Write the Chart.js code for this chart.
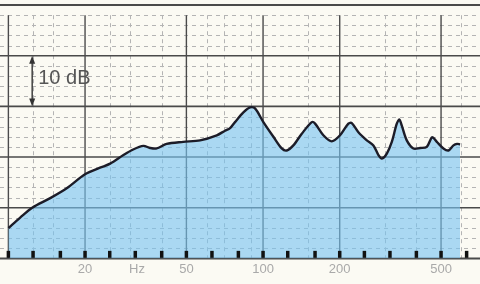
<!DOCTYPE html>
<html>
<head>
<meta charset="utf-8">
<script src="https://cdn.jsdelivr.net/npm/chart.js@4/dist/chart.umd.min.js"></script>
<style>
  html, body { margin: 0; padding: 0; background: #fbfaf3; }
  #wrap { width: 480px; height: 284px; }
</style>
</head>
<body>
<div id="wrap"><canvas id="myChart"></canvas></div>
<script>
// Response curve (Hz, dB)
var freqHz = [10, 11.1, 12.4, 14.6, 17, 20, 22.9, 25.1, 28.3, 30.9, 33.9, 36, 38.2, 41.8,
  48.6, 56.6, 65.8, 70.9, 74.2, 77.6, 83.7, 88.9, 93, 100.3, 109.8, 118.4, 123.9, 131.5,
  141.9, 155.4, 160.1, 172.5, 186.1, 200.6, 216.3, 223.1, 236.8, 255.5, 271.2, 283.8,
  292.6, 306.2, 320.3, 335.1, 343.1, 350.6, 366.7, 389.4, 413.7, 439.5, 461.2, 481.2,
  510.8, 534.4, 559.2, 578, 594];
var levelDb = [6.0, 8.0, 10.0, 11.9, 13.9, 16.6, 17.9, 18.7, 20.4, 21.5, 22.2, 21.8, 21.7, 22.6,
  23.0, 23.3, 24.3, 25.2, 25.7, 26.9, 28.8, 29.8, 29.6, 26.9, 24.0, 21.7, 21.3, 22.3,
  24.6, 26.9, 26.6, 24.3, 23.1, 24.3, 26.6, 26.7, 24.9, 23.3, 22.3, 20.4,
  19.7, 20.7, 23.0, 26.6, 27.4, 26.2, 23.3, 21.7, 21.8, 22.0, 23.9, 23.0,
  21.7, 21.3, 22.3, 22.6, 22.5];

// Axis labels along the bottom
var labelFreqs = [20, 32, 50, 100, 200, 500];
var labelTexts = ['20', 'Hz', '50', '100', '200', '500'];

// Tenth-decade tick marks on the bottom edge
var tickFreqs = [10, 12.5, 16, 20, 25, 31.5, 40, 50, 63, 80, 100, 125, 160, 200, 250, 315, 400, 500, 630];

// Paper grid
var majorFreqs = [10, 20, 50, 100, 200, 500];
var minorFreqs = [12.5, 15, 25, 30, 40, 60, 70, 90, 150, 300, 400, 600];
var majorDb = [0, 10, 20, 30, 40, 50];
var minorDb = [2, 4, 6, 8, 12, 14, 16, 18, 22, 24, 26, 28, 32, 34, 36, 38, 42, 44, 46, 48];

var ctx = document.getElementById('myChart');

var paperGrid = {
  id: 'paperGrid',
  beforeDatasetsDraw: function(chart) {
    var c = chart.ctx, a = chart.chartArea, sx = chart.scales.x, sy = chart.scales.y;
    var vTop = sy.getPixelForValue(48);
    c.save();
    // minor dashed lines
    c.strokeStyle = '#b4b4b4';
    c.lineWidth = 1;
    c.setLineDash([4, 4]);
    minorFreqs.forEach(function(f) {
      var x = Math.round(sx.getPixelForValue(f)) + 0.5;
      c.beginPath(); c.moveTo(x, vTop); c.lineTo(x, a.bottom); c.stroke();
    });
    minorDb.forEach(function(d) {
      var y = Math.round(sy.getPixelForValue(d)) + 0.5;
      c.beginPath(); c.moveTo(a.left, y); c.lineTo(a.right, y); c.stroke();
    });
    // major solid lines
    c.setLineDash([]);
    c.strokeStyle = '#4a4a4a';
    c.lineWidth = 1.4;
    majorFreqs.forEach(function(f) {
      var x = sx.getPixelForValue(f);
      c.beginPath(); c.moveTo(x, vTop); c.lineTo(x, a.bottom); c.stroke();
    });
    majorDb.forEach(function(d) {
      var y = sy.getPixelForValue(d);
      c.lineWidth = (d === 0 || d === 50) ? 2 : 1.6;
      c.beginPath(); c.moveTo(a.left, y); c.lineTo(a.right, y); c.stroke();
    });
    c.restore();
  },
  afterDatasetsDraw: function(chart) {
    // "10 dB" scale marker
    var c = chart.ctx, sx = chart.scales.x, sy = chart.scales.y;
    var x = sx.getPixelForValue(12.4);
    var y1 = sy.getPixelForValue(40), y2 = sy.getPixelForValue(30);
    c.save();
    c.strokeStyle = '#333';
    c.fillStyle = '#333';
    c.lineWidth = 1.4;
    c.beginPath(); c.moveTo(x, y1 + 4); c.lineTo(x, y2 - 4); c.stroke();
    c.beginPath(); c.moveTo(x, y1); c.lineTo(x - 3, y1 + 8); c.lineTo(x + 3, y1 + 8); c.closePath(); c.fill();
    c.beginPath(); c.moveTo(x, y2); c.lineTo(x - 3, y2 - 8); c.lineTo(x + 3, y2 - 8); c.closePath(); c.fill();
    c.fillStyle = '#555';
    c.font = '20px "Liberation Sans", Arial, sans-serif';
    c.textBaseline = 'middle';
    c.fillText('10 dB', sx.getPixelForValue(13.1), sy.getPixelForValue(35.5));
    c.restore();
  }
};

var myChart = new Chart(ctx, {
  type: 'line',
  data: {
    datasets: [{
      label: 'ticks',
      data: tickFreqs.map(function(f) { return { x: f, y: 0.8 }; }),
      showLine: false,
      pointStyle: 'line',
      rotation: 90,
      pointRadius: 3.5,
      pointBorderWidth: 3.5,
      pointBorderColor: '#111',
      clip: false
    }, {
      label: 'response',
      data: freqHz.map(function(f, i) { return { x: f, y: levelDb[i] }; }),
      fill: 'origin',
      backgroundColor: 'rgba(120,195,240,0.62)',
      borderColor: '#1c1c28',
      borderWidth: 2.4,
      pointRadius: 0,
      tension: 0.3
    }]
  },
  options: {
    responsive: true,
    maintainAspectRatio: false,
    animation: false,
    layout: { autoPadding: false, padding: { left: 0, right: 0, top: 0, bottom: 4 } },
    plugins: { legend: { display: false }, tooltip: { enabled: false } },
    scales: {
      x: {
        type: 'logarithmic',
        min: 9.27,
        max: 711,
        border: { display: false },
        grid: { display: false, drawTicks: false },
        afterBuildTicks: function(scale) {
          scale.ticks = labelFreqs.map(function(v) { return { value: v }; });
        },
        ticks: {
          autoSkip: false,
          maxRotation: 0,
          padding: 3,
          color: '#a9a9a9',
          font: { family: '"Liberation Sans", Arial, sans-serif', size: 13 },
          callback: function(value, index) { return labelTexts[index]; }
        }
      },
      y: { type: 'linear', min: 0, max: 51, display: false }
    }
  },
  plugins: [paperGrid]
});
</script>
</body>
</html>
